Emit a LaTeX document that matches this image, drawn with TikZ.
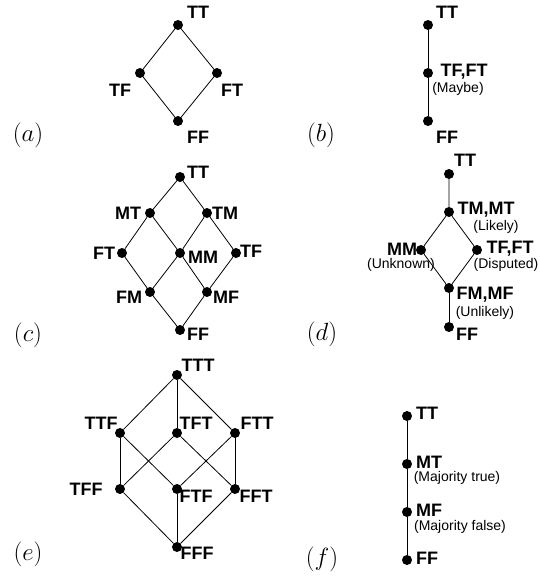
\documentclass[tikz,border=0pt]{standalone}
\usepackage{fontspec}
\setsansfont{Liberation Sans}
\begin{document}
\begin{tikzpicture}[x=1pt,y=-1pt,
  dot/.style={circle,fill=black,inner sep=0pt,minimum size=10pt},
  lbl/.style={inner sep=0pt,font=\fontsize{18}{18}\selectfont\sffamily\bfseries},
  sub/.style={inner sep=0pt,font=\fontsize{14}{14}\selectfont\sffamily},
  panel/.style={inner sep=0pt,font=\fontsize{23}{23}\selectfont},
  conn/.style={line width=0.8pt}]
\useasboundingbox (0,0) rectangle (540,576);
% (a)
\node[dot] (aTT) at (178,25) {};
\node[dot] (aTF) at (140,73) {};
\node[dot] (aFT) at (217,73) {};
\node[dot] (aFF) at (178,121) {};
\draw[conn] (aTT) -- (aTF) -- (aFF) -- (aFT) -- (aTT);
\node[lbl] (laTT) at (198,12.5) {TT};
\node[lbl] (laTF) at (120,90) {TF};
\node[lbl] (laFT) at (232,90) {FT};
\node[lbl] (laFF) at (198,137) {FF};
\node[panel] (capa) at (28,135) {$(a)$};
% (b)
\node[dot] (bTT) at (428,25) {};
\node[dot] (bTF) at (428,73) {};
\node[dot] (bFF) at (428,121) {};
\draw[conn] (bTT) -- (bTF) -- (bFF);
\node[lbl] (lbTT) at (447,12.5) {TT};
\node[lbl] (lbTF) at (464,72) {TF,FT};
\node[sub] (lbMay) at (458,89) {(Maybe)};
\node[lbl] (lbFF) at (447,137) {FF};
\node[panel] (capb) at (321,135) {$(b)$};
% (c)
\node[dot] (cTT) at (180,177) {};
\node[dot] (cMT) at (150,213) {};
\node[dot] (cTM) at (207,213) {};
\node[dot] (cFT) at (122,253) {};
\node[dot] (cMM) at (180,253) {};
\node[dot] (cTF) at (236,253) {};
\node[dot] (cFM) at (150,292) {};
\node[dot] (cMF) at (207,292) {};
\node[dot] (cFF) at (180,330) {};
\draw[conn] (cTT) -- (cMT) -- (cFT) -- (cFM) -- (cFF) -- (cMF) -- (cTF) -- (cTM) -- (cTT);
\draw[conn] (cMT) -- (cMM) -- (cMF);
\draw[conn] (cTM) -- (cMM) -- (cFM);
\node[lbl] (lcTT) at (198,172) {TT};
\node[lbl] (lcMT) at (128,213) {MT};
\node[lbl] (lcTM) at (225,213) {TM};
\node[lbl] (lcFT) at (104,253) {FT};
\node[lbl] (lcMM) at (203,257) {MM};
\node[lbl] (lcTF) at (251,251) {TF};
\node[lbl] (lcFM) at (129,297) {FM};
\node[lbl] (lcMF) at (226,297) {MF};
\node[lbl] (lcFF) at (198,334) {FF};
\node[panel] (capc) at (28,335) {$(c)$};
% (d)
\node[dot] (dTT) at (449,174) {};
\node[dot] (dTM) at (449,212) {};
\node[dot] (dMM) at (421,250) {};
\node[dot] (dTF) at (477,250) {};
\node[dot] (dFM) at (449,288) {};
\node[dot] (dFF) at (449,327) {};
\draw[conn] (dTT) -- (dTM) -- (dMM) -- (dFM) -- (dTF) -- (dTM);
\draw[conn] (dFM) -- (dFF);
\node[lbl] (ldTT) at (465,160) {TT};
\node[lbl] (ldTM) at (486,210) {TM,MT};
\node[sub] (ldLik) at (496,227) {(Likely)};
\node[lbl] (ldMM) at (402,249) {MM};
\node[sub] (ldUnk) at (401,265) {(Unknown)};
\node[lbl] (ldTF) at (510,249) {TF,FT};
\node[sub] (ldDis) at (506,265) {(Disputed)};
\node[lbl] (ldFM) at (485,295) {FM,MF};
\node[sub] (ldUnl) at (485,313) {(Unlikely)};
\node[lbl] (ldFF) at (467,334) {FF};
\node[panel] (capd) at (322,334) {$(d)$};
% (e)
\node[dot] (eTTT) at (177,375) {};
\node[dot] (eTTF) at (120,433) {};
\node[dot] (eTFT) at (177,433) {};
\node[dot] (eFTT) at (235,433) {};
\node[dot] (eTFF) at (120,489) {};
\node[dot] (eFTF) at (177,489) {};
\node[dot] (eFFT) at (235,489) {};
\node[dot] (eFFF) at (177,547) {};
\draw[conn] (eTTT) -- (eTTF); \draw[conn] (eTTT) -- (eTFT); \draw[conn] (eTTT) -- (eFTT);
\draw[conn] (eTTF) -- (eTFF); \draw[conn] (eTTF) -- (eFTF);
\draw[conn] (eTFT) -- (eTFF); \draw[conn] (eTFT) -- (eFFT);
\draw[conn] (eFTT) -- (eFTF); \draw[conn] (eFTT) -- (eFFT);
\draw[conn] (eTFF) -- (eFFF); \draw[conn] (eFTF) -- (eFFF); \draw[conn] (eFFT) -- (eFFF);
\node[lbl] (leTTT) at (198,365) {TTT};
\node[lbl] (leTTF) at (101,423) {TTF};
\node[lbl] (leTFT) at (196,423) {TFT};
\node[lbl] (leFTT) at (257,423) {FTT};
\node[lbl] (leTFF) at (86,489) {TFF};
\node[lbl] (leFTF) at (196,496) {FTF};
\node[lbl] (leFFT) at (256,496) {FFT};
\node[lbl] (leFFF) at (197,553) {FFF};
\node[panel] (cape) at (28,554) {$(e)$};
% (f)
\node[dot] (fTT) at (407,416) {};
\node[dot] (fMT) at (407,464) {};
\node[dot] (fMF) at (407,512) {};
\node[dot] (fFF) at (407,560) {};
\draw[conn] (fTT) -- (fMT) -- (fMF) -- (fFF);
\node[lbl] (lfTT) at (427,413) {TT};
\node[lbl] (lfMT) at (429,462) {MT};
\node[sub] (lfMT2) at (457,478) {(Majority true)};
\node[lbl] (lfMF) at (429,510) {MF};
\node[sub] (lfMF2) at (460,527) {(Majority false)};
\node[lbl] (lfFF) at (427,558) {FF};
\node[panel] (capf) at (322,559) {$(f)$};
\end{tikzpicture}
\end{document}
